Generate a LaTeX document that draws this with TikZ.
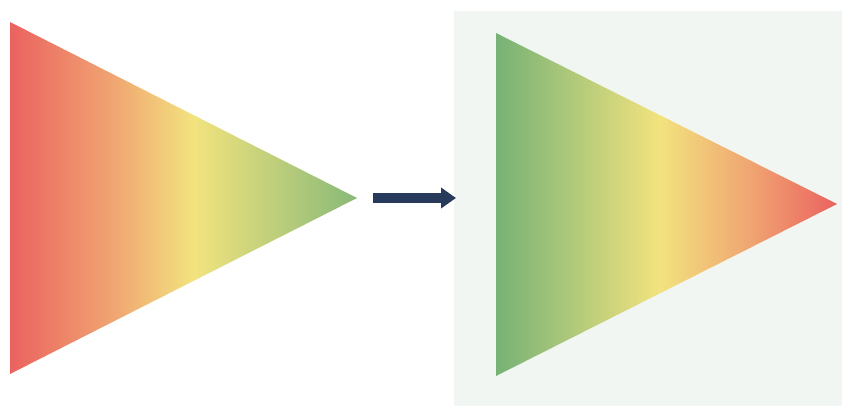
\documentclass[tikz,border=0pt]{standalone}
\usetikzlibrary{arrows.meta}
\definecolor{tred}{HTML}{EB625F}
\definecolor{torange}{HTML}{F0A672}
\definecolor{tyellow}{HTML}{F2E37E}
\definecolor{tgreen}{HTML}{76B276}
\definecolor{panelbg}{HTML}{F1F6F2}
\definecolor{arrownavy}{HTML}{283A5C}
% the path box covers 25bp..75bp of the shading
\pgfdeclarehorizontalshading{redtogreen}{100bp}{color(0bp)=(tred); color(25bp)=(tred); color(40bp)=(torange); color(51.5bp)=(tyellow); color(75bp)=(tgreen!85!tyellow); color(100bp)=(tgreen!85!tyellow)}
\pgfdeclarehorizontalshading{greentored}{100bp}{color(0bp)=(tgreen); color(25bp)=(tgreen); color(49bp)=(tyellow); color(62bp)=(torange); color(75bp)=(tred); color(100bp)=(tred)}
\begin{document}
\begin{tikzpicture}[x=1pt,y=-1pt]
				\useasboundingbox (0,0) rectangle (842,406);
				\fill[panelbg] (454,11) rectangle (842,406);
				% left triangle
				\coordinate (lt) at (10,22);
				\coordinate (lb) at (10,374);
				\coordinate (ltip) at (357,198);
				\shade[shading=redtogreen] (lt) -- (ltip) -- (lb) -- cycle;
				% right triangle
				\coordinate (rt) at (496,33);
				\coordinate (rb) at (496,376);
				\coordinate (rtip) at (837,204);
				\shade[shading=greentored] (rt) -- (rtip) -- (rb) -- cycle;
				% arrow
				\coordinate (from) at (373,198);
				\coordinate (to) at (456,198);
				\path[-{Triangle[length=15pt,width=20pt]},draw,line width=10pt,arrownavy] (from) -- (to);
			\end{tikzpicture}
\end{document}
